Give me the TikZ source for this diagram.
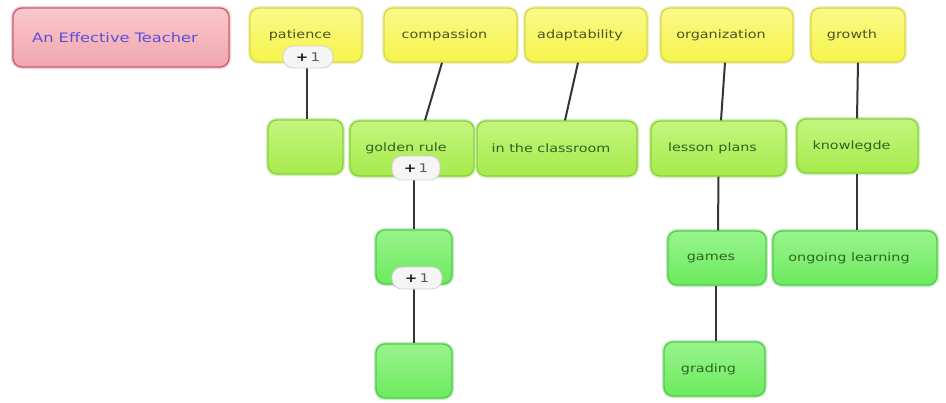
\documentclass[tikz,border=0pt]{standalone}
\usepackage{fontspec}
\newfontfamily\nodefont{DejaVu Sans}[FakeStretch=1.25]
\usetikzlibrary{calc}
\definecolor{ylfill}{HTML}{F6F44A}
\definecolor{yltop}{HTML}{FAF98A}
\definecolor{ylline}{HTML}{D8D84A}
\definecolor{gafill}{HTML}{A6EA4C}
\definecolor{gatop}{HTML}{C4F57E}
\definecolor{galine}{HTML}{88D23A}
\definecolor{gbfill}{HTML}{6CEA5E}
\definecolor{gbtop}{HTML}{98F48C}
\definecolor{gbline}{HTML}{52CC4A}
\definecolor{rdfill}{HTML}{F2A6AE}
\definecolor{rdtop}{HTML}{F8C8CC}
\definecolor{rdline}{HTML}{C86070}
\definecolor{rdtext}{HTML}{5A50D8}
\definecolor{yltext}{HTML}{4C5420}
\definecolor{grtext}{HTML}{2E6420}
\definecolor{conn}{HTML}{353535}
\newcommand{\lbl}[1]{#1\kern12pt\relax}
\tikzset{
  box/.style={rectangle, rounded corners=9pt, line width=1.3pt, inner sep=0pt,
    font=\nodefont\fontsize{11.5}{13}\selectfont},
  ybox/.style={box, draw=ylline, top color=yltop, bottom color=ylfill,
    preaction={draw=ylline!35, line width=4pt}, text=yltext},
  gabox/.style={box, draw=galine, top color=gatop, bottom color=gafill,
    preaction={draw=galine!35, line width=4pt}, text=grtext},
  gbbox/.style={box, draw=gbline, top color=gbtop, bottom color=gbfill,
    preaction={draw=gbline!35, line width=4pt}, text=grtext},
  rbox/.style={box, draw=rdline, top color=rdtop, bottom color=rdfill,
    preaction={draw=rdline!30, line width=4pt}, text=rdtext,
    font=\nodefont\fontsize{13}{15}\selectfont},
  badge/.style={rectangle, rounded corners=10pt, fill=gray!8, draw=gray!35,
    line width=0.8pt, inner sep=0pt, minimum width=50pt, minimum height=22pt,
    font=\nodefont\fontsize{12}{14}\selectfont, text=gray!70!black},
  conline/.style={draw=conn, line width=2pt}
}
\begin{document}
\begin{tikzpicture}[x=1pt,y=-1pt]
\useasboundingbox[fill=white] (0,0) rectangle (946,402);
% boxes
\node[rbox, minimum width=216pt, minimum height=59pt] (red) at (121,37.5) {\lbl{An Effective Teacher}};
\node[ybox, minimum width=112pt, minimum height=54pt] (pat) at (306,35) {\lbl{patience}};
\node[ybox, minimum width=133pt, minimum height=54pt] (comp) at (450.5,35) {\lbl{compassion}};
\node[ybox, minimum width=122pt, minimum height=54pt] (adapt) at (586,35) {\lbl{adaptability}};
\node[ybox, minimum width=132pt, minimum height=54pt] (org) at (727,35) {\lbl{organization}};
\node[ybox, minimum width=94pt, minimum height=54pt] (grow) at (858,35) {\lbl{growth}};
\node[gabox, minimum width=75pt, minimum height=54pt] (e1) at (305.5,147) {};
\node[gabox, minimum width=124pt, minimum height=55pt] (gold) at (412,148.5) {\lbl{golden rule}};
\node[gabox, minimum width=160pt, minimum height=55pt] (cls) at (557,148.5) {\lbl{in the classroom}};
\node[gabox, minimum width=135pt, minimum height=55pt] (lp) at (718.5,148.5) {\lbl{lesson plans}};
\node[gabox, minimum width=121pt, minimum height=54pt] (know) at (857.5,146) {\lbl{knowlegde}};
\node[gbbox, minimum width=76pt, minimum height=54pt] (e2) at (414,257) {};
\node[gbbox, minimum width=98pt, minimum height=54pt] (games) at (717,258) {\lbl{games}};
\node[gbbox, minimum width=164pt, minimum height=54pt] (ong) at (855,258) {\lbl{ongoing learning}};
\node[gbbox, minimum width=76pt, minimum height=54pt] (e3) at (414,371) {};
\node[gbbox, minimum width=101pt, minimum height=54pt] (grad) at (714.5,369) {\lbl{grading}};
% connectors
\draw[conline] ([xshift=1pt]pat.south) -- ([xshift=1.5pt]e1.north);
\draw[conline] ([xshift=-8.5pt]comp.south) -- ([xshift=13pt]gold.north);
\draw[conline] ([xshift=-8pt]adapt.south) -- ([xshift=8pt]cls.north);
\draw[conline] ([xshift=-2pt]org.south) -- ([xshift=2.5pt]lp.north);
\draw[conline] (grow.south) -- ([xshift=-0.5pt]know.north);
\draw[conline] ([xshift=2pt]gold.south) -- (e2.north);
\draw[conline] (e2.south) -- (e3.north);
\draw[conline] (lp.south) -- ([xshift=1pt]games.north);
\draw[conline] ([xshift=-0.5pt]know.south) -- ([xshift=2pt]ong.north);
\draw[conline] ([xshift=-1pt]games.south) -- ([xshift=1.5pt]grad.north);
% badges
\node[badge] (b1) at (308,57) {{\bfseries\color{gray!20!black}+}\,1};
\node[badge, minimum width=48pt, minimum height=24pt] (b2) at (416,168) {{\bfseries\color{gray!20!black}+}\,1};
\node[badge] (b3) at (417,278) {{\bfseries\color{gray!20!black}+}\,1};
\end{tikzpicture}
\end{document}
